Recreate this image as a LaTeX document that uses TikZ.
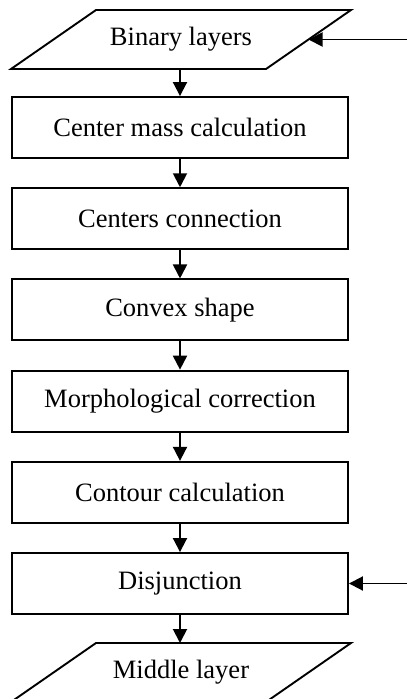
\documentclass[tikz,border=0pt]{standalone}
\usepackage{fontspec}
\setmainfont{Liberation Serif}
\usetikzlibrary{arrows.meta}

\begin{document}
\begin{tikzpicture}[x=1pt,y=-1pt,line width=1.9pt,line join=miter,
    font=\fontsize{26.5}{30}\selectfont,
    stepbox/.style={draw,rectangle,minimum width=336pt,minimum height=61pt,inner sep=0pt},
    arr/.style={-{Triangle[length=14pt,width=14pt]}}]
    \useasboundingbox (0,0) rectangle (407,699);
    % input and output (parallelograms)
    \node (bin) at (181,39.5) {Binary layers};
    \draw (11,69) -- (96,10) -- (351,10) -- (266,69) -- cycle;
    \coordinate (binS) at (180,69);
    \coordinate (binE) at (308.5,39.5);
    \node (mid) at (181,672.5) {Middle layer};
    \draw (11,702) -- (96,643) -- (351,643) -- (266,702) -- cycle;
    \coordinate (midN) at (180,643);
    % processing steps
    \node[stepbox] (cm) at (180,127.5) {Center mass calculation};
    \node[stepbox] (cc) at (180,218.7) {Centers connection};
    \node[stepbox] (cs) at (180,309.9) {Convex shape};
    \node[stepbox] (mc) at (180,401.1) {Morphological correction};
    \node[stepbox] (ct) at (180,492.3) {Contour calculation};
    \node[stepbox] (dj) at (180,583.5) {Disjunction};
    \draw[arr] (binS) -- (cm.north);
    \draw[arr] (cm) -- (cc);
    \draw[arr] (cc) -- (cs);
    \draw[arr] (cs) -- (mc);
    \draw[arr] (mc) -- (ct);
    \draw[arr] (ct) -- (dj);
    \draw[arr] (dj.south) -- (midN);
    % side inputs
    \coordinate (inA) at (407,39.5);
    \coordinate (inB) at (407,583.5);
    \draw[arr] (inA) -- (binE);
    \draw[arr] (inB) -- (dj.east);
  \end{tikzpicture}
\end{document}
